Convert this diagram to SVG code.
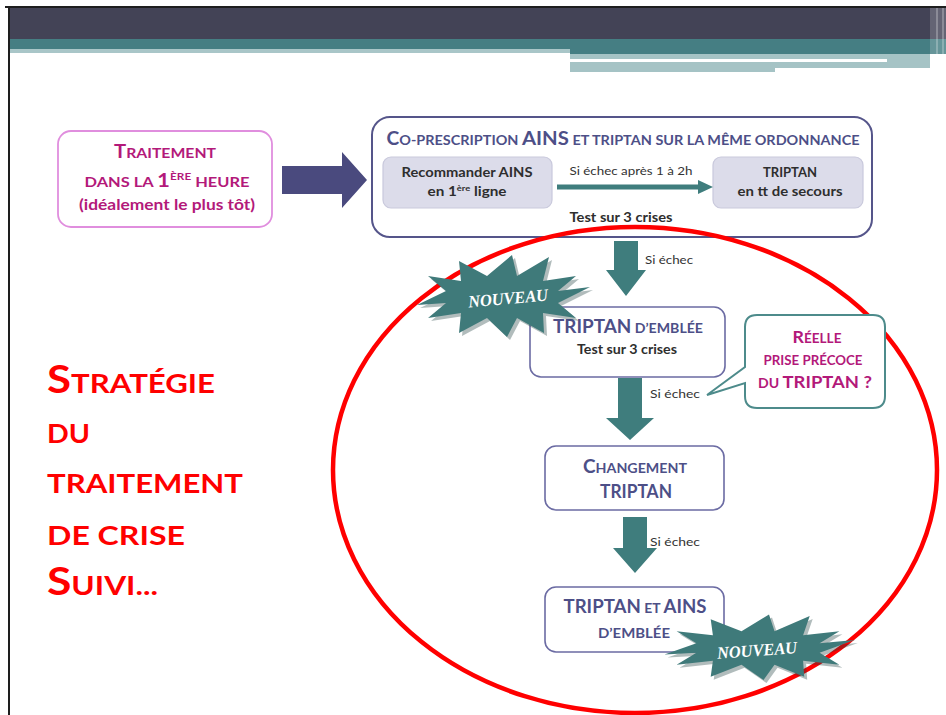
<svg xmlns="http://www.w3.org/2000/svg" xmlns:xlink="http://www.w3.org/1999/xlink" width="946" height="715" viewBox="0 0 946 715">
<style>
.f{font-family:Lato,"Open Sans","Liberation Sans",sans-serif;font-weight:bold}
.mag{fill:#b3197a}
.blue{fill:#4d4f87}
.dark{fill:#2e2e2e}
.red{fill:#ff0000}
.box{fill:#ffffff;stroke:#6b6ba3;stroke-width:1.6}
.inner{fill:#dcdcea;stroke:#c9c9dc;stroke-width:1.2}
.teal{fill:#3f7d7d}
.lbl{font-family:Lato,"Open Sans","Liberation Sans",sans-serif;font-size:11px;fill:#333}
.nv{font-family:"Liberation Serif",serif;font-weight:bold;font-style:italic;font-size:17px;fill:#ffffff}
</style>
<defs>
<path id="star" d="M88,-10 L56,6 L74,21 L41,16 L42,36 L15,21 L5,40 L-15,21 L-43,36 L-41,16 L-74,21 L-56,6 L-85,8 L-56,-6 L-74,-21 L-41,-16 L-43,-36 L-15,-21 L10,-42 L15,-21 L47,-40 L41,-16 L74,-21 L56,-6 Z"/>
</defs>
<rect width="946" height="715" fill="#ffffff"/>
<!-- header -->
<g id="header">
<rect x="10" y="8" width="936" height="31" fill="#434356"/>
<rect x="10" y="39" width="936" height="11" fill="#457e83"/>
<rect x="10" y="49" width="560" height="4" fill="#a9c6c8"/>
<rect x="570" y="49" width="376" height="5" fill="#457e83"/>
<rect x="570" y="54" width="205" height="18" fill="#a5c3c5"/>
<rect x="775" y="54" width="155" height="14" fill="#a5c3c5"/>
<rect x="570" y="59" width="317" height="3" fill="#ffffff"/>
<rect x="930" y="8" width="16" height="64" fill="#ffffff" opacity="0.18"/>
<rect x="936" y="8" width="2" height="64" fill="#ffffff" opacity="0.25"/>
<rect x="942" y="8" width="2" height="64" fill="#ffffff" opacity="0.25"/>
<rect x="5" y="6" width="941" height="2" fill="#1e1e1e"/>
<rect x="8" y="6" width="2" height="709" fill="#1e1e1e"/>
</g>
<!-- left title -->
<g id="title" class="f red">
<text x="47" y="393" textLength="168" lengthAdjust="spacingAndGlyphs"><tspan font-size="38">S</tspan><tspan font-size="27">TRATÉGIE</tspan></text>
<text x="47" y="443" font-size="27" textLength="43" lengthAdjust="spacingAndGlyphs">DU</text>
<text x="47" y="493" font-size="27" textLength="196" lengthAdjust="spacingAndGlyphs">TRAITEMENT</text>
<text x="47" y="545" font-size="27" textLength="138" lengthAdjust="spacingAndGlyphs">DE CRISE</text>
<text x="47" y="595" textLength="111" lengthAdjust="spacingAndGlyphs"><tspan font-size="38">S</tspan><tspan font-size="27">UIVI...</tspan></text>
</g>
<!-- pink node -->
<g id="node-traitement">
<rect x="58" y="131" width="214" height="96" rx="13" fill="#ffffff" stroke="#e08ede" stroke-width="1.8"/>
<text class="f mag" x="165" y="158" text-anchor="middle" textLength="102" lengthAdjust="spacingAndGlyphs"><tspan font-size="18">T</tspan><tspan font-size="14">RAITEMENT</tspan></text>
<text class="f mag" x="167" y="187" text-anchor="middle" font-size="14" textLength="165" lengthAdjust="spacingAndGlyphs">DANS LA <tspan font-size="19">1</tspan><tspan font-size="10" dy="-7">ÈRE</tspan><tspan dy="7"> HEURE</tspan></text>
<text class="f mag" x="167" y="210" text-anchor="middle" font-size="15" textLength="176" lengthAdjust="spacingAndGlyphs">(idéalement le plus tôt)</text>
</g>
<!-- co-prescription node -->
<g id="node-coprescription">
<rect x="372" y="117" width="500" height="120" rx="18" fill="#ffffff" stroke="#55558a" stroke-width="2"/>
<text class="f blue" x="623" y="145" text-anchor="middle" textLength="473" lengthAdjust="spacingAndGlyphs"><tspan font-size="18">C</tspan><tspan font-size="13.5">O-PRESCRIPTION </tspan><tspan font-size="19">AINS</tspan><tspan font-size="13.5"> ET TRIPTAN SUR LA MÊME ORDONNANCE</tspan></text>
</g>
<g id="node-ains">
<rect class="inner" x="383" y="157" width="169" height="51" rx="8"/>
<text class="f dark" x="467" y="177" text-anchor="middle" font-size="13" textLength="131" lengthAdjust="spacingAndGlyphs">Recommander AINS</text>
<text class="f dark" x="467" y="196" text-anchor="middle" font-size="13" textLength="79" lengthAdjust="spacingAndGlyphs">en 1<tspan font-size="8" dy="-5">ère</tspan><tspan dy="5"> ligne</tspan></text>
</g>
<g id="node-triptan-secours">
<rect class="inner" x="713" y="157" width="150" height="51" rx="8"/>
<text class="f dark" x="790" y="177" text-anchor="middle" font-size="13" textLength="54" lengthAdjust="spacingAndGlyphs">TRIPTAN</text>
<text class="f dark" x="790" y="196" text-anchor="middle" font-size="13" textLength="105" lengthAdjust="spacingAndGlyphs">en tt de secours</text>
</g>
<text class="f dark" x="621" y="222" text-anchor="middle" font-size="13" textLength="103" lengthAdjust="spacingAndGlyphs">Test sur 3 crises</text>
<!-- red ellipse -->
<ellipse cx="635" cy="470" rx="302" ry="243" fill="none" stroke="#ff0000" stroke-width="4.5"/>
<!-- connectors -->
<g id="connectors">
<polygon points="282,166 342,166 342,152 367,180 342,208 342,194 282,194" fill="#4a4a7e"/>
<line x1="557" y1="187" x2="700" y2="187" stroke="#3f7d7d" stroke-width="5"/>
<polygon points="698,180 713,187 698,194" class="teal"/>
<text class="lbl" x="631" y="175" text-anchor="middle" textLength="123" lengthAdjust="spacingAndGlyphs">Si échec après 1 à 2h</text>
<polygon class="teal" points="614,241 638,241 638,270 646,270 626,296 606,270 614,270"/>
<text class="lbl" x="645" y="264" textLength="48" lengthAdjust="spacingAndGlyphs">Si échec</text>
<polygon class="teal" points="618,378 642,378 642,418 654,418 630,440 606,418 618,418"/>
<text class="lbl" x="650" y="398" textLength="50" lengthAdjust="spacingAndGlyphs">Si échec</text>
<polygon class="teal" points="623,517 647,517 647,548 657,548 635,573 613,548 623,548"/>
<text class="lbl" x="650" y="546" textLength="50" lengthAdjust="spacingAndGlyphs">Si échec</text>
</g>
<!-- nodes inside ellipse -->
<g id="node-triptan-emblee">
<rect class="box" x="530" y="307" width="195" height="70" rx="11"/>
<text class="f blue" x="628" y="333" text-anchor="middle" textLength="150" lengthAdjust="spacingAndGlyphs"><tspan font-size="18">TRIPTAN</tspan><tspan font-size="13.5"> D’EMBLÉE</tspan></text>
<text class="f dark" x="627" y="354" text-anchor="middle" font-size="13" textLength="100" lengthAdjust="spacingAndGlyphs">Test sur 3 crises</text>
</g>
<g id="node-changement">
<rect class="box" x="545" y="446" width="179" height="64" rx="11"/>
<text class="f blue" x="635" y="473" text-anchor="middle" textLength="104" lengthAdjust="spacingAndGlyphs"><tspan font-size="18">C</tspan><tspan font-size="13.5">HANGEMENT</tspan></text>
<text class="f blue" x="636" y="498" text-anchor="middle" font-size="18" textLength="72" lengthAdjust="spacingAndGlyphs">TRIPTAN</text>
</g>
<g id="node-triptan-ains">
<rect class="box" x="545" y="587" width="179" height="65" rx="11"/>
<text class="f blue" x="635" y="613" text-anchor="middle" textLength="143" lengthAdjust="spacingAndGlyphs"><tspan font-size="18">TRIPTAN</tspan><tspan font-size="13.5"> ET </tspan><tspan font-size="18">AINS</tspan></text>
<text class="f blue" x="634" y="638" text-anchor="middle" font-size="13.5" textLength="72" lengthAdjust="spacingAndGlyphs">D’EMBLÉE</text>
</g>
<!-- NOUVEAU stars -->
<g id="nouveau-1">
<use href="#star" transform="translate(505,300)" fill="#1f3f3f" opacity="0.35"/>
<use href="#star" transform="translate(502,297)" fill="#3f7a7a"/>
<text class="nv" x="508" y="304" text-anchor="middle" textLength="80" lengthAdjust="spacingAndGlyphs" transform="rotate(-5 508 298)">NOUVEAU</text>
</g>
<g id="nouveau-2">
<use href="#star" transform="translate(761,651) scale(1.1,0.8)" fill="#1f3f3f" opacity="0.35"/>
<use href="#star" transform="translate(758,648) scale(1.1,0.8)" fill="#3f7a7a"/>
<text class="nv" x="757" y="656" text-anchor="middle" textLength="80" lengthAdjust="spacingAndGlyphs" transform="rotate(-4 757 650)">NOUVEAU</text>
</g>
<!-- callout -->
<g id="callout">
<path d="M757,315 L873,315 Q885,315 885,327 L885,396 Q885,408 873,408 L757,408 Q745,408 745,396 L745,383 L707,395 L745,367 L745,327 Q745,315 757,315 Z" fill="#ffffff" stroke="#4d8b8b" stroke-width="2"/>
<text class="f mag" x="817" y="343" text-anchor="middle" textLength="49" lengthAdjust="spacingAndGlyphs"><tspan font-size="17">R</tspan><tspan font-size="13">ÉELLE</tspan></text>
<text class="f mag" x="813" y="365" text-anchor="middle" font-size="13" textLength="99" lengthAdjust="spacingAndGlyphs">PRISE PRÉCOCE</text>
<text class="f mag" x="815" y="388" text-anchor="middle" textLength="114" lengthAdjust="spacingAndGlyphs"><tspan font-size="13">DU </tspan><tspan font-size="17">TRIPTAN ?</tspan></text>
</g>
</svg>
